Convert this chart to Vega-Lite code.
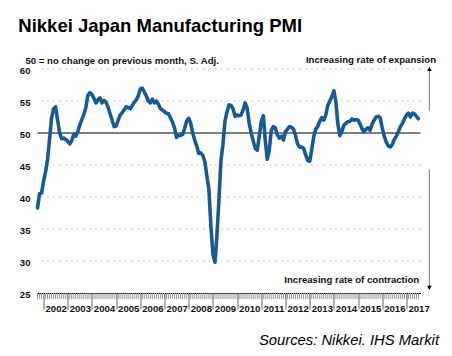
{
  "$schema": "https://vega.github.io/schema/vega-lite/v6.json",
  "width": 383,
  "height": 224,
  "autosize": "none",
  "padding": {"left": 37.5, "top": 69, "right": 31.5, "bottom": 63},
  "background": "white",
  "config": {
    "font": "Liberation Sans",
    "view": {"stroke": null},
    "axisY": {
      "titleFont": "Liberation Sans",
      "titleAngle": 0,
      "titleAlign": "left",
      "titleBaseline": "alphabetic",
      "titleX": -12.5,
      "titleY": -5.7,
      "titleFontSize": 9.6,
      "titleFontWeight": "bold",
      "titleColor": "#111",
      "domain": false,
      "ticks": false,
      "labels": false,
      "grid": false
    },
    "axisX": {
      "titleFont": "Liberation Sans",
      "titleFontStyle": "italic",
      "titleFontWeight": "normal",
      "titleFontSize": 14.8,
      "titleColor": "#000",
      "titleAnchor": "end",
      "titleAlign": "right",
      "titleBaseline": "alphabetic",
      "titleX": 401,
      "titleY": 51,
      "labelFont": "Liberation Sans",
      "labelFontWeight": "bold",
      "labelFontSize": 9.6,
      "labelColor": "#111",
      "labelAlign": "center",
      "labelOffset": 12.1,
      "labelPadding": -6,
      "labelBaseline": "top",
      "labelFlush": false,
      "labelOverlap": false,
      "labelBound": false,
      "tickSize": 16,
      "tickColor": "#666",
      "tickWidth": 1,
      "domainColor": "#000",
      "domainWidth": 1.2,
      "grid": false
    }
  },
  "title": {
    "text": "Nikkei Japan Manufacturing PMI",
    "anchor": "start",
    "frame": "group",
    "dx": -19.2,
    "offset": 4.4,
    "baseline": "alphabetic",
    "fontSize": 18.5,
    "fontWeight": "bold",
    "font": "Liberation Sans",
    "color": "#000"
  },
  "datasets": {
    "levels": [
      {"g": 25}, {"g": 30}, {"g": 35}, {"g": 40}, {"g": 45}, {"g": 50}, {"g": 55}, {"g": 60}
    ],
    "pmi": [
      {"m": "2001/10/01", "v": 38.3}, {"m": "2001/11/01", "v": 40.5}, {"m": "2001/12/01", "v": 40.6},
      {"m": "2002/01/01", "v": 42.5}, {"m": "2002/02/01", "v": 44.0}, {"m": "2002/03/01", "v": 45.8},
      {"m": "2002/04/01", "v": 49.0}, {"m": "2002/05/01", "v": 52.3}, {"m": "2002/06/01", "v": 53.8},
      {"m": "2002/07/01", "v": 54.1}, {"m": "2002/08/01", "v": 52.0}, {"m": "2002/09/01", "v": 50.0},
      {"m": "2002/10/01", "v": 49.1}, {"m": "2002/11/01", "v": 49.2}, {"m": "2002/12/01", "v": 49.0},
      {"m": "2003/01/01", "v": 48.7}, {"m": "2003/02/01", "v": 48.3}, {"m": "2003/03/01", "v": 48.8},
      {"m": "2003/04/01", "v": 49.8}, {"m": "2003/05/01", "v": 49.5}, {"m": "2003/06/01", "v": 50.2},
      {"m": "2003/07/01", "v": 51.2}, {"m": "2003/08/01", "v": 52.1}, {"m": "2003/09/01", "v": 52.9},
      {"m": "2003/10/01", "v": 54.0}, {"m": "2003/11/01", "v": 55.9}, {"m": "2003/12/01", "v": 56.3},
      {"m": "2004/01/01", "v": 56.0}, {"m": "2004/02/01", "v": 55.4}, {"m": "2004/03/01", "v": 54.7},
      {"m": "2004/04/01", "v": 55.2}, {"m": "2004/05/01", "v": 55.5}, {"m": "2004/06/01", "v": 54.7},
      {"m": "2004/07/01", "v": 55.1}, {"m": "2004/08/01", "v": 54.8}, {"m": "2004/09/01", "v": 54.0},
      {"m": "2004/10/01", "v": 53.0}, {"m": "2004/11/01", "v": 52.0}, {"m": "2004/12/01", "v": 51.0},
      {"m": "2005/01/01", "v": 51.1}, {"m": "2005/02/01", "v": 52.0}, {"m": "2005/03/01", "v": 52.8},
      {"m": "2005/04/01", "v": 53.2}, {"m": "2005/05/01", "v": 53.6}, {"m": "2005/06/01", "v": 54.1},
      {"m": "2005/07/01", "v": 54.0}, {"m": "2005/08/01", "v": 53.8}, {"m": "2005/09/01", "v": 54.3},
      {"m": "2005/10/01", "v": 54.8}, {"m": "2005/11/01", "v": 55.2}, {"m": "2005/12/01", "v": 55.8},
      {"m": "2006/01/01", "v": 56.9}, {"m": "2006/02/01", "v": 57.0}, {"m": "2006/03/01", "v": 56.4},
      {"m": "2006/04/01", "v": 55.8}, {"m": "2006/05/01", "v": 55.0}, {"m": "2006/06/01", "v": 54.7},
      {"m": "2006/07/01", "v": 55.3}, {"m": "2006/08/01", "v": 54.7}, {"m": "2006/09/01", "v": 55.0},
      {"m": "2006/10/01", "v": 54.5}, {"m": "2006/11/01", "v": 53.8}, {"m": "2006/12/01", "v": 53.6},
      {"m": "2007/01/01", "v": 53.3}, {"m": "2007/02/01", "v": 53.1}, {"m": "2007/03/01", "v": 53.0},
      {"m": "2007/04/01", "v": 52.4}, {"m": "2007/05/01", "v": 51.7}, {"m": "2007/06/01", "v": 50.8},
      {"m": "2007/07/01", "v": 49.3}, {"m": "2007/08/01", "v": 49.6}, {"m": "2007/09/01", "v": 49.6},
      {"m": "2007/10/01", "v": 49.8}, {"m": "2007/11/01", "v": 50.7}, {"m": "2007/12/01", "v": 51.9},
      {"m": "2008/01/01", "v": 52.3}, {"m": "2008/02/01", "v": 51.5}, {"m": "2008/03/01", "v": 50.0},
      {"m": "2008/04/01", "v": 48.9}, {"m": "2008/05/01", "v": 48.0}, {"m": "2008/06/01", "v": 46.8},
      {"m": "2008/07/01", "v": 46.9}, {"m": "2008/08/01", "v": 46.5}, {"m": "2008/09/01", "v": 45.5},
      {"m": "2008/10/01", "v": 43.3}, {"m": "2008/11/01", "v": 41.2}, {"m": "2008/12/01", "v": 35.5},
      {"m": "2009/01/01", "v": 31.0}, {"m": "2009/02/01", "v": 29.8}, {"m": "2009/03/01", "v": 33.8},
      {"m": "2009/04/01", "v": 39.4}, {"m": "2009/05/01", "v": 45.6}, {"m": "2009/06/01", "v": 48.2},
      {"m": "2009/07/01", "v": 51.8}, {"m": "2009/08/01", "v": 53.3}, {"m": "2009/09/01", "v": 54.4},
      {"m": "2009/10/01", "v": 54.3}, {"m": "2009/11/01", "v": 53.8}, {"m": "2009/12/01", "v": 52.6},
      {"m": "2010/01/01", "v": 52.8}, {"m": "2010/02/01", "v": 52.7}, {"m": "2010/03/01", "v": 52.8},
      {"m": "2010/04/01", "v": 53.6}, {"m": "2010/05/01", "v": 54.7}, {"m": "2010/06/01", "v": 53.9},
      {"m": "2010/07/01", "v": 51.6}, {"m": "2010/08/01", "v": 50.0}, {"m": "2010/09/01", "v": 48.8},
      {"m": "2010/10/01", "v": 47.6}, {"m": "2010/11/01", "v": 47.3}, {"m": "2010/12/01", "v": 49.5},
      {"m": "2011/01/01", "v": 51.8}, {"m": "2011/02/01", "v": 52.7}, {"m": "2011/03/01", "v": 49.0},
      {"m": "2011/04/01", "v": 45.9}, {"m": "2011/05/01", "v": 47.3}, {"m": "2011/06/01", "v": 50.4},
      {"m": "2011/07/01", "v": 51.0}, {"m": "2011/08/01", "v": 50.8}, {"m": "2011/09/01", "v": 49.7},
      {"m": "2011/10/01", "v": 49.2}, {"m": "2011/11/01", "v": 49.5}, {"m": "2011/12/01", "v": 48.9},
      {"m": "2012/01/01", "v": 50.2}, {"m": "2012/02/01", "v": 50.6}, {"m": "2012/03/01", "v": 51.0},
      {"m": "2012/04/01", "v": 50.9}, {"m": "2012/05/01", "v": 50.6}, {"m": "2012/06/01", "v": 49.6},
      {"m": "2012/07/01", "v": 48.3}, {"m": "2012/08/01", "v": 47.8}, {"m": "2012/09/01", "v": 47.8},
      {"m": "2012/10/01", "v": 47.6}, {"m": "2012/11/01", "v": 46.6}, {"m": "2012/12/01", "v": 45.7},
      {"m": "2013/01/01", "v": 45.6}, {"m": "2013/02/01", "v": 47.4}, {"m": "2013/03/01", "v": 49.3},
      {"m": "2013/04/01", "v": 50.6}, {"m": "2013/05/01", "v": 51.0}, {"m": "2013/06/01", "v": 51.8},
      {"m": "2013/07/01", "v": 52.4}, {"m": "2013/08/01", "v": 52.0}, {"m": "2013/09/01", "v": 52.8},
      {"m": "2013/10/01", "v": 54.3}, {"m": "2013/11/01", "v": 55.0}, {"m": "2013/12/01", "v": 55.7},
      {"m": "2014/01/01", "v": 56.6}, {"m": "2014/02/01", "v": 54.8}, {"m": "2014/03/01", "v": 51.5},
      {"m": "2014/04/01", "v": 49.6}, {"m": "2014/05/01", "v": 50.2}, {"m": "2014/06/01", "v": 51.2},
      {"m": "2014/07/01", "v": 51.5}, {"m": "2014/08/01", "v": 51.8}, {"m": "2014/09/01", "v": 51.8},
      {"m": "2014/10/01", "v": 52.2}, {"m": "2014/11/01", "v": 52.0}, {"m": "2014/12/01", "v": 52.1},
      {"m": "2015/01/01", "v": 52.0}, {"m": "2015/02/01", "v": 51.4}, {"m": "2015/03/01", "v": 50.7},
      {"m": "2015/04/01", "v": 50.2}, {"m": "2015/05/01", "v": 50.6}, {"m": "2015/06/01", "v": 50.8},
      {"m": "2015/07/01", "v": 50.4}, {"m": "2015/08/01", "v": 51.4}, {"m": "2015/09/01", "v": 52.0},
      {"m": "2015/10/01", "v": 52.5}, {"m": "2015/11/01", "v": 52.6}, {"m": "2015/12/01", "v": 52.4},
      {"m": "2016/01/01", "v": 50.8}, {"m": "2016/02/01", "v": 49.5}, {"m": "2016/03/01", "v": 48.6},
      {"m": "2016/04/01", "v": 48.0}, {"m": "2016/05/01", "v": 47.8}, {"m": "2016/06/01", "v": 48.2},
      {"m": "2016/07/01", "v": 49.0}, {"m": "2016/08/01", "v": 49.5}, {"m": "2016/09/01", "v": 50.2},
      {"m": "2016/10/01", "v": 51.0}, {"m": "2016/11/01", "v": 51.5}, {"m": "2016/12/01", "v": 52.2},
      {"m": "2017/01/01", "v": 52.8}, {"m": "2017/02/01", "v": 53.1}, {"m": "2017/03/01", "v": 52.5},
      {"m": "2017/04/01", "v": 53.1}, {"m": "2017/05/01", "v": 53.0}, {"m": "2017/06/01", "v": 52.6},
      {"m": "2017/07/01", "v": 52.2}
    ]
  },
  "layer": [
    {
      "data": {"name": "pmi"},
      "mark": {"type": "line", "opacity": 0},
      "encoding": {
        "x": {
          "field": "m",
          "type": "temporal",
          "scale": {"domain": [{"year": 2001, "month": 10, "date": 1}, {"year": 2017, "month": 8, "date": 1}]},
          "axis": {
            "title": "Sources: Nikkei. IHS Markit",
            "format": "%Y",
            "tickCount": {"interval": "year", "step": 1},
            "labelOverlap": false,
            "grid": false
          }
        },
        "y": {
          "field": "v",
          "type": "quantitative",
          "scale": {"domain": [25, 60], "nice": false, "zero": false},
          "axis": {
            "title": "50 = no change on previous month, S. Adj.",
            "labels": false,
            "grid": false,
            "ticks": false,
            "domain": false
          }
        }
      }
    },
    {
      "data": {"name": "levels"},
      "transform": [{"filter": "datum.g > 25 && datum.g != 50"}],
      "mark": {"type": "rule", "color": "#a8a8a8", "strokeWidth": 1, "strokeDash": [1.2, 4.8]},
      "encoding": {
        "y": {"field": "g", "type": "quantitative"}
      }
    },
    {
      "data": {"name": "levels"},
      "mark": {"type": "text", "align": "right", "baseline": "middle", "font": "Liberation Sans", "fontSize": 9.6, "fontWeight": "bold", "color": "#111", "dx": -7, "dy": 1.5},
      "encoding": {
        "x": {"datum": {"year": 2001, "month": 10, "date": 1}},
        "y": {"field": "g", "type": "quantitative"},
        "text": {"field": "g", "type": "quantitative"}
      }
    },
    {
      "data": {"name": "pmi"},
      "mark": {"type": "rule", "color": "#9a9a9a", "strokeWidth": 1},
      "encoding": {
        "x": {"field": "m", "type": "temporal"},
        "y": {"datum": 25},
        "y2": {"datum": 24.06}
      }
    },
    {
      "data": {"values": [{}]},
      "mark": {"type": "rule", "color": "#000", "strokeWidth": 1},
      "encoding": {"y": {"datum": 50}}
    },
    {
      "data": {"name": "pmi"},
      "mark": {"type": "line", "color": "#1a5a94", "strokeWidth": 3.6, "strokeJoin": "round", "strokeCap": "round"},
      "encoding": {
        "x": {"field": "m", "type": "temporal"},
        "y": {"field": "v", "type": "quantitative"}
      }
    },
    {
      "data": {"values": [{}]},
      "mark": {"type": "rule", "color": "#777", "strokeWidth": 1},
      "encoding": {
        "x": {"datum": {"year": 2017, "month": 12, "date": 13}},
        "y": {"datum": 60.2},
        "y2": {"datum": 53.5}
      }
    },
    {
      "data": {"values": [{}]},
      "mark": {"type": "rule", "color": "#777", "strokeWidth": 1},
      "encoding": {
        "x": {"datum": {"year": 2017, "month": 12, "date": 13}},
        "y": {"datum": 44.3},
        "y2": {"datum": 25.6}
      }
    },
    {
      "data": {"values": [{}]},
      "mark": {"type": "point", "shape": "triangle-up", "filled": true, "color": "#000", "size": 22, "opacity": 1},
      "encoding": {
        "x": {"datum": {"year": 2017, "month": 12, "date": 13}},
        "y": {"datum": 60.0}
      }
    },
    {
      "data": {"values": [{}]},
      "mark": {"type": "point", "shape": "triangle-down", "filled": true, "color": "#000", "size": 22, "opacity": 1},
      "encoding": {
        "x": {"datum": {"year": 2017, "month": 12, "date": 13}},
        "y": {"datum": 25.8}
      }
    },
    {
      "data": {"values": [{}]},
      "mark": {"type": "text", "align": "right", "baseline": "alphabetic", "font": "Liberation Sans", "fontSize": 9.6, "fontWeight": "bold", "color": "#111", "dx": 15.5, "dy": -5.7},
      "encoding": {
        "x": {"datum": {"year": 2017, "month": 8, "date": 1}},
        "y": {"datum": 60},
        "text": {"value": "Increasing rate of expansion"}
      }
    },
    {
      "data": {"values": [{}]},
      "mark": {"type": "text", "align": "right", "baseline": "alphabetic", "font": "Liberation Sans", "fontSize": 9.6, "fontWeight": "bold", "color": "#111", "dx": -1.3, "dy": -10},
      "encoding": {
        "x": {"datum": {"year": 2017, "month": 8, "date": 1}},
        "y": {"datum": 25},
        "text": {"value": "Increasing rate of contraction"}
      }
    }
  ]
}
